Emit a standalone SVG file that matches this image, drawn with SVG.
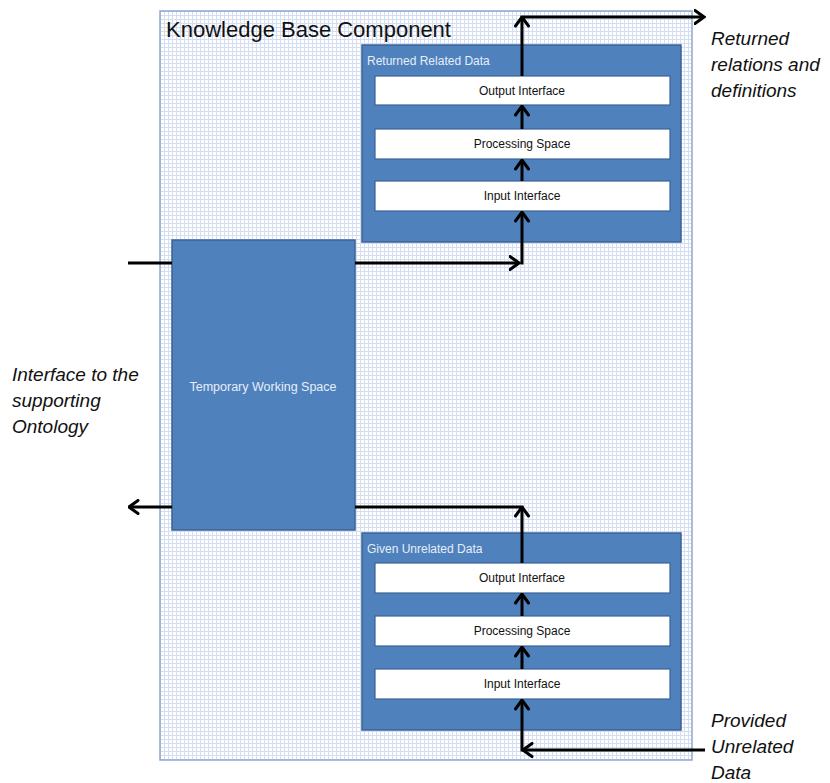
<svg xmlns="http://www.w3.org/2000/svg" width="830" height="783" viewBox="0 0 830 783">
<defs>
<pattern id="grid" x="160" y="11" width="4" height="4" patternUnits="userSpaceOnUse">
<rect width="4" height="4" fill="#ffffff"/>
<path d="M0,0.5 H4 M0.5,0 V4" stroke="#d3def2" stroke-width="1" fill="none"/>
</pattern>
<marker id="arr" viewBox="0 0 12 16" refX="10.5" refY="8" markerWidth="12" markerHeight="16" markerUnits="userSpaceOnUse" orient="auto">
<path d="M1.5,1.5 L10.5,8 L1.5,14.5" fill="none" stroke="#000" stroke-width="3" stroke-linecap="round" stroke-linejoin="miter"/>
</marker>
<style>
.blue{fill:#4f81bd;stroke:#3b6396;stroke-width:1.5}
.white{fill:#ffffff;stroke:#3b6396;stroke-width:1.2}
.lbl{font-family:"Liberation Sans",Arial,sans-serif;font-size:12px;fill:#111}
.wlbl{font-family:"Liberation Sans",Arial,sans-serif;font-size:12px;fill:#e6eef8}
.ital{font-family:"Liberation Sans",Arial,sans-serif;font-size:19px;font-style:italic;fill:#111}
.conn{stroke:#000;stroke-width:3;fill:none}
</style>
</defs>
<rect width="830" height="783" fill="#ffffff"/>

<g id="kb">
<rect x="160" y="11" width="532" height="749" fill="url(#grid)" stroke="#8ea8cf" stroke-width="1.5"/>
<text x="166" y="37" font-family="Liberation Sans, Arial, sans-serif" font-size="22" fill="#111">Knowledge Base Component</text>
</g>

<g id="returned">
<rect class="blue" x="362" y="45" width="319" height="197"/>
<text class="wlbl" x="367" y="65">Returned Related Data</text>
</g>
<g id="r-output"><rect class="white" x="375" y="76" width="295" height="29"/><text class="lbl" x="522" y="95" text-anchor="middle">Output Interface</text></g>
<g id="r-proc"><rect class="white" x="375" y="129" width="295" height="30"/><text class="lbl" x="522" y="148" text-anchor="middle">Processing Space</text></g>
<g id="r-input"><rect class="white" x="375" y="181" width="295" height="30"/><text class="lbl" x="522" y="200" text-anchor="middle">Input Interface</text></g>

<g id="tws">
<rect class="blue" x="172" y="240" width="183" height="290"/>
<text class="wlbl" x="263" y="391" text-anchor="middle" style="font-size:12.5px">Temporary Working Space</text>
</g>

<g id="given">
<rect class="blue" x="362" y="533" width="319" height="197"/>
<text class="wlbl" x="367" y="553">Given Unrelated Data</text>
</g>
<g id="g-output"><rect class="white" x="375" y="563" width="295" height="30"/><text class="lbl" x="522" y="582" text-anchor="middle">Output Interface</text></g>
<g id="g-proc"><rect class="white" x="375" y="616" width="295" height="30"/><text class="lbl" x="522" y="635" text-anchor="middle">Processing Space</text></g>
<g id="g-input"><rect class="white" x="375" y="669" width="295" height="30"/><text class="lbl" x="522" y="688" text-anchor="middle">Input Interface</text></g>

<g id="labels">
<text class="ital" x="711" y="45">Returned</text>
<text class="ital" x="711" y="71">relations and</text>
<text class="ital" x="711" y="97">definitions</text>
<text class="ital" x="12" y="381">Interface to the</text>
<text class="ital" x="12" y="407">supporting</text>
<text class="ital" x="12" y="433">Ontology</text>
<text class="ital" x="711" y="727">Provided</text>
<text class="ital" x="711" y="753">Unrelated</text>
<text class="ital" x="711" y="779">Data</text>
</g>

<g id="connectors">
<line class="conn" x1="128" y1="263" x2="172" y2="263"/>
<line class="conn" x1="355" y1="263" x2="519" y2="263" marker-end="url(#arr)"/>
<line class="conn" x1="522" y1="264.5" x2="522" y2="212" marker-end="url(#arr)"/>
<line class="conn" x1="522" y1="181" x2="522" y2="160" marker-end="url(#arr)"/>
<line class="conn" x1="522" y1="129" x2="522" y2="106" marker-end="url(#arr)"/>
<line class="conn" x1="522" y1="76" x2="522" y2="17" marker-end="url(#arr)"/>
<line class="conn" x1="520.5" y1="17" x2="704" y2="17" marker-end="url(#arr)"/>
<line class="conn" x1="172" y1="507" x2="129" y2="507" marker-end="url(#arr)"/>
<line class="conn" x1="355" y1="507" x2="523.5" y2="507"/>
<line class="conn" x1="522" y1="563" x2="522" y2="507" marker-end="url(#arr)"/>
<line class="conn" x1="522" y1="616" x2="522" y2="594" marker-end="url(#arr)"/>
<line class="conn" x1="522" y1="669" x2="522" y2="647" marker-end="url(#arr)"/>
<line class="conn" x1="522" y1="751.5" x2="522" y2="700" marker-end="url(#arr)"/>
<line class="conn" x1="705" y1="750" x2="523" y2="750" marker-end="url(#arr)"/>
</g>
</svg>
